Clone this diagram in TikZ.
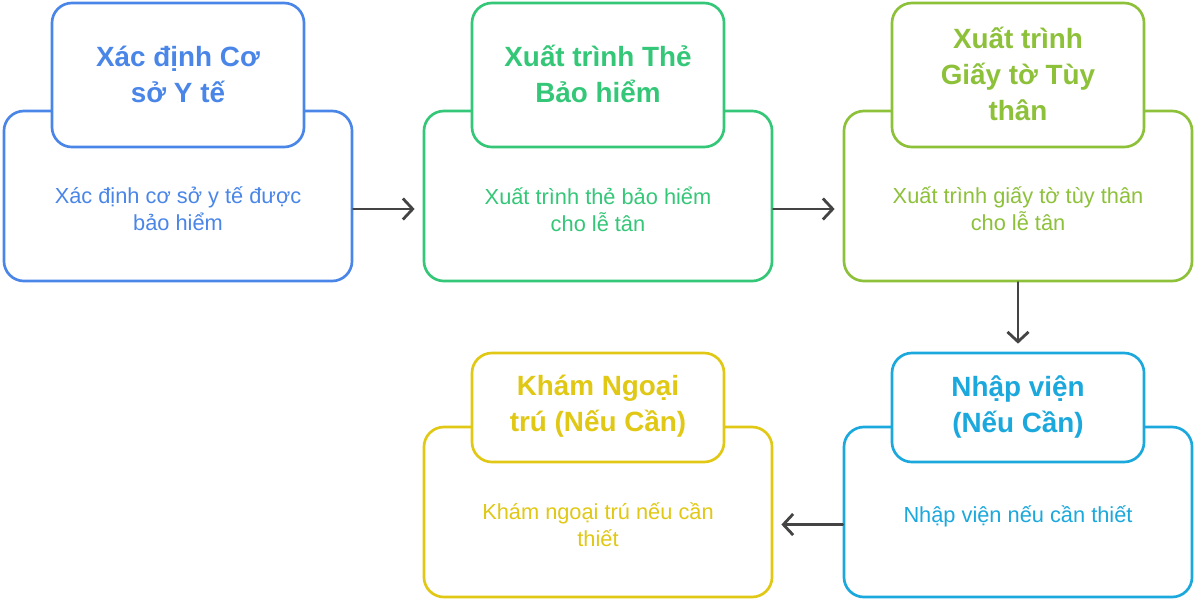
\documentclass[tikz,border=0pt]{standalone}
\usepackage{fontspec}
\setmainfont{Liberation Sans}
\usetikzlibrary{arrows.meta}
\definecolor{xblue}{RGB}{74,134,232}
\definecolor{xgreen}{RGB}{52,199,120}
\definecolor{xlime}{RGB}{141,193,58}
\definecolor{xcyan}{RGB}{27,168,220}
\definecolor{xyellow}{RGB}{224,200,20}
\definecolor{xarrow}{RGB}{68,68,68}
\tikzset{
  bigbox/.style={draw=#1, line width=1.9pt, rounded corners=0.5cm, fill=white,
    minimum width=8.7cm, minimum height=4.25cm},
  titlebox/.style={draw=#1, line width=1.9pt, rounded corners=0.5cm, fill=white,
    minimum width=6.3cm, minimum height=3.6cm},
  titletxt/.style={text=#1, font=\fontsize{19.8}{25.6}\selectfont\bfseries, align=center},
  bodytxt/.style={text=#1, font=\fontsize{15.5}{19.2}\selectfont, align=center},
  conn/.style={draw=xarrow, line width=2pt, -{Straight Barb[length=7pt,width=15pt,line width=2pt]}, shorten >=0.2cm}
}
\begin{document}
\begin{tikzpicture}[x=0.025cm, y=-0.025cm, line join=round, line cap=round]
  \useasboundingbox (0,0) rectangle (1195,601);
  % first row
  \node[bigbox=xblue] (b1) at (178,196) {};
  \node[titlebox=xblue] (t1) at (178,75) {};
  \node[titletxt=xblue] (t1txt) at (178,74) {Xác định Cơ\\sở Y tế};
  \node[bodytxt=xblue] (b1txt) at (178,209) {Xác định cơ sở y tế được\\bảo hiểm};
  \node[bigbox=xgreen] (b2) at (598,196) {};
  \node[titlebox=xgreen] (t2) at (598,75) {};
  \node[titletxt=xgreen] (t2txt) at (598,74) {Xuất trình Thẻ\\Bảo hiểm};
  \node[bodytxt=xgreen] (b2txt) at (598,209) {Xuất trình thẻ bảo hiểm\\cho lễ tân};
  \node[bigbox=xlime] (b3) at (1018,196) {};
  \node[titlebox=xlime] (t3) at (1018,75) {};
  \node[titletxt=xlime] (t3txt) at (1018,74) {Xuất trình\\Giấy tờ Tùy\\thân};
  \node[bodytxt=xlime] (b3txt) at (1018,209) {Xuất trình giấy tờ tùy thân\\cho lễ tân};
  % second row
  \node[bigbox=xcyan] (b4) at (1018,512) {};
  \node[titlebox=xcyan, minimum height=2.725cm] (t4) at (1018,407.5) {};
  \node[titletxt=xcyan] (t4txt) at (1018,406.5) {Nhập viện\\(Nếu Cần)};
  \node[bodytxt=xcyan] (b4txt) at (1018,516) {Nhập viện nếu cần thiết};
  \node[bigbox=xyellow] (b5) at (598,512) {};
  \node[titlebox=xyellow, minimum height=2.725cm] (t5) at (598,407.5) {};
  \node[titletxt=xyellow] (t5txt) at (598,406.5) {Khám Ngoại\\trú (Nếu Cần)};
  \node[bodytxt=xyellow] (b5txt) at (598,524.5) {Khám ngoại trú nếu cần\\thiết};
  % connectors
  \draw[conn] (b1txt -| b1.east) -- (b1txt -| b2.west);
  \draw[conn] (b2txt -| b2.east) -- (b2txt -| b3.west);
  \draw[conn] (b3.south) -- (t4.north);
  \draw[conn] (b5txt -| b4.west) -- (b5txt -| b5.east);
\end{tikzpicture}
\end{document}
